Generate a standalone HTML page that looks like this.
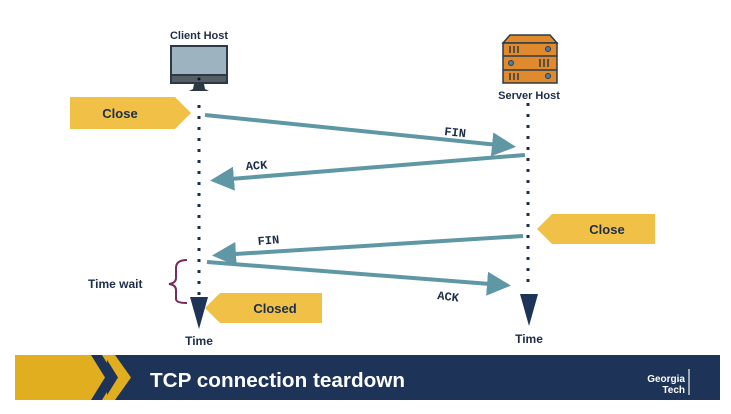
<!DOCTYPE html>
<html><head><style>
body{margin:0;width:731px;height:409px;background:#fff;overflow:hidden;font-family:"Liberation Sans",sans-serif}
</style></head><body>
<svg width="731" height="409" viewBox="0 0 731 409" xmlns="http://www.w3.org/2000/svg" font-family="Liberation Sans, sans-serif">
<defs>
<marker id="ah" markerWidth="6" markerHeight="6" refX="4" refY="3" orient="auto" markerUnits="strokeWidth">
<path d="M0,0 L6,3 L0,6 Z" fill="#5f97a4"/></marker>
</defs>
<text x="199" y="39" font-size="11" font-weight="bold" fill="#1e2d4a" text-anchor="middle">Client Host</text>
<rect x="171" y="46" width="56" height="36" fill="#9db4c0" stroke="#2c3a48" stroke-width="2"/>
<rect x="171" y="75" width="56" height="8" fill="#555e66" stroke="#2c3a48" stroke-width="2"/>
<circle cx="199" cy="79" r="1.5" fill="#111"/>
<path d="M194,84 L204,84 L205,89 L209,91 L189,91 L193,89 Z" fill="#2c3a48"/>
<path d="M510,35 L550,35 L557,43 L503,43 Z" fill="#e08a2e" stroke="#2c3a48" stroke-width="1.5"/>
<rect x="503" y="43" width="54" height="40" fill="#e08a2e" stroke="#2c3a48" stroke-width="1.5"/>
<line x1="503" y1="56" x2="557" y2="56" stroke="#2c3a48" stroke-width="1.5"/>
<line x1="503" y1="70" x2="557" y2="70" stroke="#2c3a48" stroke-width="1.5"/>
<g stroke="#2c3a48" stroke-width="1.5">
<line x1="510" y1="46" x2="510" y2="53"/><line x1="514" y1="46" x2="514" y2="53"/><line x1="518" y1="46" x2="518" y2="53"/>
<line x1="540" y1="59" x2="540" y2="67"/><line x1="544" y1="59" x2="544" y2="67"/><line x1="548" y1="59" x2="548" y2="67"/>
<line x1="510" y1="73" x2="510" y2="80"/><line x1="514" y1="73" x2="514" y2="80"/><line x1="518" y1="73" x2="518" y2="80"/>
</g>
<circle cx="548" cy="49" r="2.5" fill="#4a7fa8" stroke="#2c3a48"/>
<circle cx="511" cy="63" r="2.5" fill="#4a7fa8" stroke="#2c3a48"/>
<circle cx="548" cy="76" r="2.5" fill="#4a7fa8" stroke="#2c3a48"/>
<text x="529" y="99" font-size="11" font-weight="bold" fill="#1e2d4a" text-anchor="middle">Server Host</text>
<line x1="199" y1="105" x2="199" y2="300" stroke="#1e2d4a" stroke-width="3" stroke-dasharray="3,8"/>
<line x1="528" y1="103" x2="528" y2="290" stroke="#1e2d4a" stroke-width="3" stroke-dasharray="3,8"/>
<path d="M190,297 L208,297 L199,329 Z" fill="#1e3358"/>
<path d="M520,294 L538,294 L529,326 Z" fill="#1e3358"/>
<text x="199" y="345" font-size="12" font-weight="bold" fill="#1e2d4a" text-anchor="middle">Time</text>
<text x="529" y="343" font-size="12" font-weight="bold" fill="#1e2d4a" text-anchor="middle">Time</text>
<g stroke="#5f97a4" stroke-width="4" fill="none">
<line x1="205" y1="115" x2="508" y2="146" marker-end="url(#ah)"/>
<line x1="525" y1="155" x2="218" y2="180" marker-end="url(#ah)"/>
<line x1="523" y1="236" x2="220" y2="255" marker-end="url(#ah)"/>
<line x1="207" y1="262" x2="503" y2="285" marker-end="url(#ah)"/>
</g>
<g font-family="Liberation Mono, monospace" font-weight="bold" font-size="12" fill="#1e2d4a">
<text x="444" y="135" transform="rotate(6 444 135)">FIN</text>
<text x="246" y="170" transform="rotate(-4 246 170)">ACK</text>
<text x="258" y="245" transform="rotate(-5 258 245)">FIN</text>
<text x="437" y="299" transform="rotate(7 437 299)">ACK</text>
</g>
<path d="M70,97 L175,97 L191,113 L175,129 L70,129 Z" fill="#f0c146"/>
<text x="120" y="118" font-size="13" font-weight="bold" fill="#1e2d4a" text-anchor="middle">Close</text>
<path d="M655,214 L552,214 L537,229 L552,244 L655,244 Z" fill="#f0c146"/>
<text x="607" y="234" font-size="13" font-weight="bold" fill="#1e2d4a" text-anchor="middle">Close</text>
<path d="M322,293 L220,293 L205,308 L220,323 L322,323 Z" fill="#f0c146"/>
<text x="275" y="313" font-size="13" font-weight="bold" fill="#1e2d4a" text-anchor="middle">Closed</text>
<path d="M187,260 Q176,260 176,268 L176,278 Q176,283 169,284 Q176,285 176,290 L176,299 Q176,303 187,303" stroke="#7a2a5a" stroke-width="2" fill="none"/>
<text x="88" y="288" font-size="12" font-weight="bold" fill="#1e2d4a">Time wait</text>
<rect x="15" y="355" width="705" height="45" fill="#1e3358"/>
<rect x="15" y="355" width="92" height="45" fill="#e0ae1e"/>
<path d="M91,355 L102,355 L116,377.5 L102,400 L91,400 L105,377.5 Z" fill="#1e3358"/>
<path d="M104,355 L115,355 L131,377.5 L115,400 L104,400 L118,377.5 Z" fill="#e0ae1e"/>
<text x="150" y="387" font-size="20.5" font-weight="bold" fill="#fff" textLength="255" lengthAdjust="spacingAndGlyphs">TCP connection teardown</text>
<text x="685" y="382" font-size="10" font-weight="bold" fill="#fff" text-anchor="end">Georgia</text>
<text x="685" y="393" font-size="10" font-weight="bold" fill="#fff" text-anchor="end">Tech</text>
<line x1="689" y1="369" x2="689" y2="395" stroke="#ccc" stroke-width="1.5"/>
</svg>
</body></html>
